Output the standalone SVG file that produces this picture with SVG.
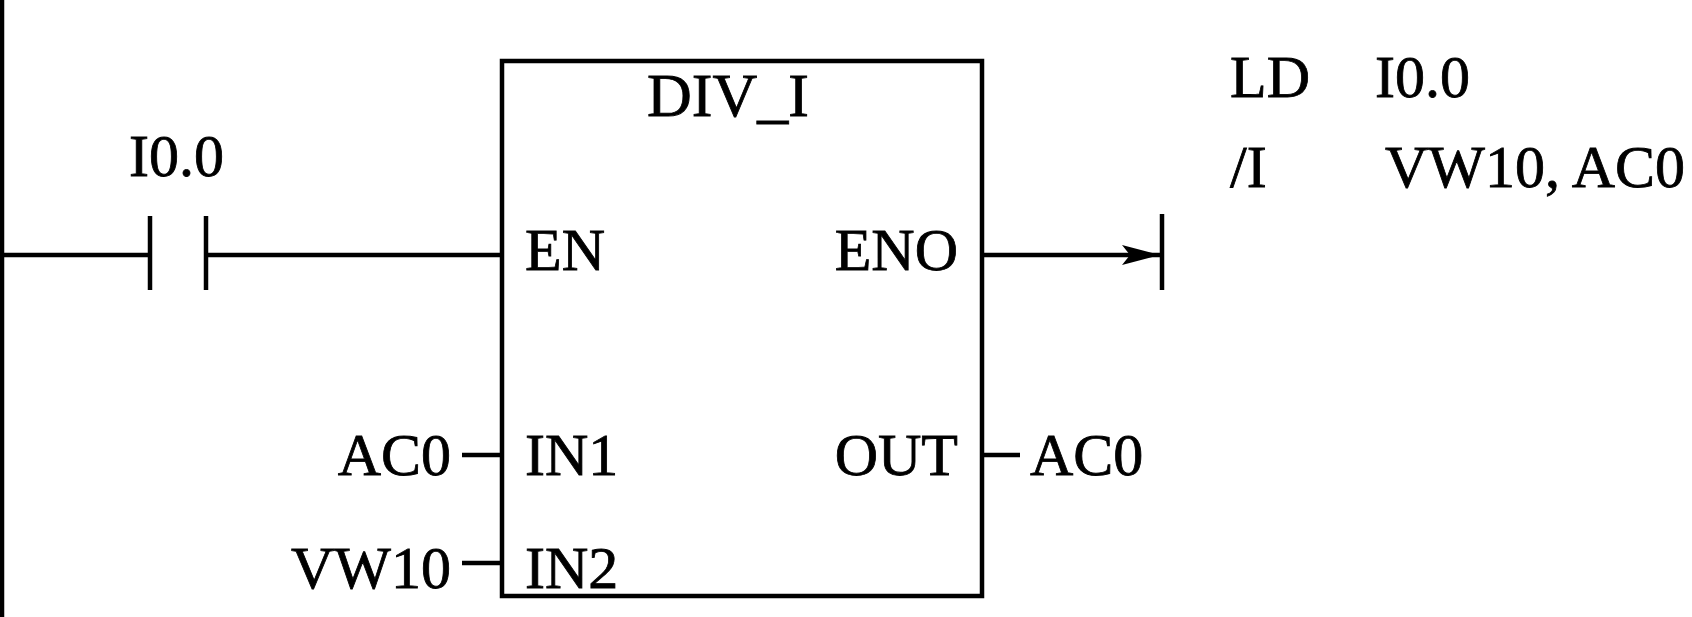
<svg xmlns="http://www.w3.org/2000/svg" width="1692" height="617" viewBox="0 0 1692 617">
<style>
text{font-family:"Liberation Serif","Times New Roman",serif;font-size:60px;fill:#000;stroke:#000;stroke-width:0.8}
.ln{stroke:#000;stroke-width:4.5;fill:none}
.e{text-anchor:end}
.m{text-anchor:middle}
</style>
<defs>
<marker id="arr" markerWidth="38" markerHeight="22" refX="38" refY="11" orient="auto" markerUnits="userSpaceOnUse">
<path d="M0,1 L38,11 L0,21 L8,11 Z" fill="#000"/>
</marker>
</defs>
<rect width="1692" height="617" fill="#fff"/>
<g id="rail"><line class="ln" x1="2" y1="0" x2="2" y2="617"/></g>
<g id="contact">
<line class="ln" x1="150" y1="216" x2="150" y2="290"/>
<line class="ln" x1="206" y1="216" x2="206" y2="290"/>
<text x="129" y="176">I0.0</text>
</g>
<g id="div_i">
<rect class="ln" x="502" y="61" width="480" height="535"/>
<text class="m" x="728" y="116" style="font-size:62px">DIV_I</text>
<text x="525" y="270">EN</text>
<text class="e" x="958" y="270">ENO</text>
<text x="525" y="475">IN1</text>
<text class="e" x="958" y="475">OUT</text>
<text x="525" y="588">IN2</text>
</g>
<g id="operands">
<text class="e" x="451" y="475">AC0</text>
<text class="e" x="451" y="588">VW10</text>
<text x="1030" y="475">AC0</text>
</g>
<g id="coil">
<line class="ln" x1="1162" y1="214" x2="1162" y2="290"/>
</g>
<g id="stl">
<text x="1230" y="97">LD</text>
<text x="1375" y="97">I0.0</text>
<text x="1230" y="187">/I</text>
<text x="1385" y="187">VW10, AC0</text>
</g>
<g id="connectors">
<line class="ln" x1="2" y1="255" x2="150" y2="255"/>
<line class="ln" x1="206" y1="255" x2="502" y2="255"/>
<line class="ln" x1="462" y1="455" x2="502" y2="455"/>
<line class="ln" x1="462" y1="563" x2="502" y2="563"/>
<line class="ln" x1="982" y1="455" x2="1020" y2="455"/>
<line class="ln" x1="982" y1="255" x2="1160" y2="255" marker-end="url(#arr)"/>
</g>
</svg>
